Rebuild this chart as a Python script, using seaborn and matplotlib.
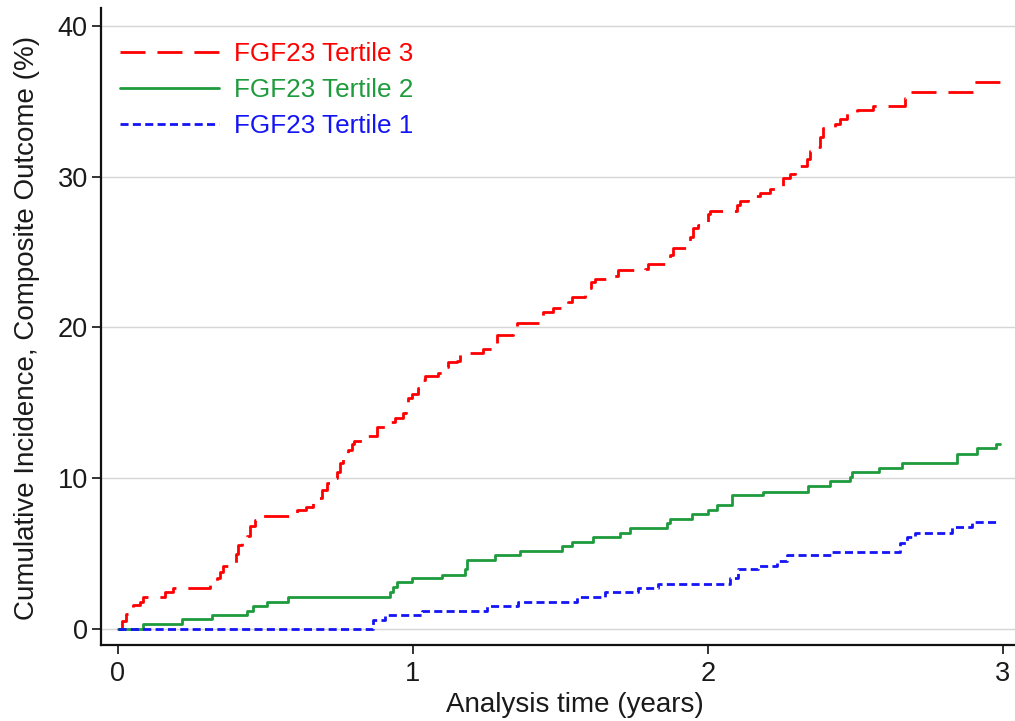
import matplotlib
matplotlib.use("Agg")
import matplotlib.pyplot as plt
from matplotlib.lines import Line2D
import seaborn as sns
import pandas as pd

# Kaplan-Meier style cumulative incidence (%) by FGF23 tertile, step times in years
t3_time = [0.000, 0.014, 0.027, 0.041, 0.051, 0.075, 0.085, 0.159, 0.186, 0.312,
           0.325, 0.336, 0.346, 0.356, 0.390, 0.400, 0.407, 0.420, 0.437, 0.447,
           0.464, 0.492, 0.607, 0.637, 0.661, 0.675, 0.692, 0.708, 0.725, 0.742,
           0.753, 0.763, 0.780, 0.793, 0.800, 0.827, 0.878, 0.915, 0.939, 0.966,
           0.976, 0.983, 0.997, 1.017, 1.027, 1.041, 1.085, 1.102, 1.119, 1.149,
           1.159, 1.237, 1.285, 1.339, 1.346, 1.353, 1.431, 1.441, 1.475, 1.525,
           1.539, 1.583, 1.590, 1.603, 1.617, 1.675, 1.695, 1.786, 1.797, 1.854,
           1.871, 1.881, 1.939, 1.949, 1.966, 2.000, 2.007, 2.098, 2.108, 2.136,
           2.176, 2.210, 2.254, 2.278, 2.295, 2.312, 2.336, 2.346, 2.363, 2.380,
           2.390, 2.431, 2.447, 2.471, 2.505, 2.559, 2.668, 2.685, 2.898, 3.000]
t3_pct = [0.0, 0.5, 1.0, 1.3, 1.6, 1.8, 2.1, 2.45, 2.7, 3.0,
          3.2, 3.4, 3.8, 4.2, 4.4, 5.0, 5.6, 6.0, 6.2, 6.8,
          7.2, 7.5, 7.9, 8.1, 8.4, 8.7, 9.2, 9.7, 10.0, 10.4,
          11.0, 11.4, 11.9, 12.3, 12.5, 12.8, 13.4, 13.7, 14.0, 14.3,
          14.9, 15.3, 15.6, 16.0, 16.5, 16.8, 17.0, 17.4, 17.7, 17.8,
          18.3, 18.6, 19.5, 19.8, 20.0, 20.3, 20.7, 21.0, 21.3, 21.7,
          22.0, 22.3, 22.6, 23.0, 23.2, 23.4, 23.8, 23.9, 24.2, 24.4,
          24.8, 25.3, 26.0, 26.6, 26.8, 27.5, 27.7, 28.1, 28.4, 28.7,
          28.9, 29.2, 29.9, 30.2, 30.5, 30.7, 31.2, 31.7, 32.0, 32.6,
          33.2, 33.5, 33.8, 34.2, 34.4, 34.7, 35.2, 35.6, 36.3, 36.3]

t2_time = [0.000, 0.085, 0.217, 0.319, 0.437, 0.458, 0.505, 0.576, 0.922, 0.932,
           0.946, 0.997, 1.098, 1.176, 1.183, 1.278, 1.363, 1.505, 1.539, 1.610,
           1.702, 1.736, 1.861, 1.871, 1.946, 2.000, 2.031, 2.081, 2.186, 2.339,
           2.414, 2.481, 2.488, 2.580, 2.658, 2.844, 2.912, 2.976, 2.990]
t2_pct = [0.0, 0.33, 0.66, 0.93, 1.2, 1.5, 1.8, 2.1, 2.45, 2.8,
          3.1, 3.4, 3.6, 4.0, 4.6, 4.9, 5.2, 5.5, 5.8, 6.1,
          6.4, 6.7, 7.0, 7.3, 7.6, 7.9, 8.2, 8.9, 9.1, 9.5,
          9.8, 10.1, 10.4, 10.7, 11.0, 11.6, 12.0, 12.3, 12.3]

t1_time = [0.000, 0.864, 0.905, 1.031, 1.251, 1.356, 1.556, 1.651, 1.763, 1.831,
           2.075, 2.102, 2.169, 2.234, 2.268, 2.420, 2.651, 2.675, 2.702, 2.827,
           2.895, 2.980]
t1_pct = [0.0, 0.6, 0.95, 1.2, 1.5, 1.8, 2.1, 2.45, 2.7, 3.0,
          3.4, 4.0, 4.2, 4.5, 4.9, 5.1, 5.7, 6.1, 6.4, 6.75,
          7.1, 7.1]

group_labels = ["FGF23 Tertile 3", "FGF23 Tertile 2", "FGF23 Tertile 1"]
y_ticks = [0, 10, 20, 30, 40]
x_ticks = [0, 1, 2, 3]

colors = {"FGF23 Tertile 3": "#FF0000",
          "FGF23 Tertile 2": "#1E9B3C",
          "FGF23 Tertile 1": "#1414F5"}
styles = {"FGF23 Tertile 3": (0, (18, 8.6)),
          "FGF23 Tertile 2": "-",
          "FGF23 Tertile 1": (0, (5.8, 3.1))}

frames = []
for lab, tt, pp in zip(group_labels, [t3_time, t2_time, t1_time], [t3_pct, t2_pct, t1_pct]):
    frames.append(pd.DataFrame({"time": tt, "pct": pp, "group": lab}))
df = pd.concat(frames, ignore_index=True)

sns.set_theme(style="white")
plt.rcParams["font.family"] = ["Liberation Sans", "DejaVu Sans"]
plt.rcParams["lines.scale_dashes"] = False

fig = plt.figure(figsize=(10.15, 7.21), dpi=100)
ax = fig.add_axes([0.0995, 0.1054, 0.9005, 0.8836])

for lab in group_labels:
    sub = df[df["group"] == lab]
    sns.lineplot(data=sub, x="time", y="pct", ax=ax, estimator=None, sort=False,
                 drawstyle="steps-post", color=colors[lab], linestyle=styles[lab],
                 linewidth=2.0, legend=False)

ax.set_xlim(-0.0576, 3.0407)
ax.set_ylim(-1.06, 41.19)
ax.set_xticks(x_ticks)
ax.set_yticks(y_ticks)
ax.set_xticklabels([str(v) for v in x_ticks])
ax.set_yticklabels([str(v) for v in y_ticks])

ax.yaxis.grid(True, color="#D6D6D6", linewidth=1.0)
ax.xaxis.grid(False)
ax.set_axisbelow(True)

for side in ["top", "right"]:
    ax.spines[side].set_visible(False)
for side in ["left", "bottom"]:
    ax.spines[side].set_color("#111111")
    ax.spines[side].set_linewidth(1.6)

ax.tick_params(axis="both", which="major", direction="out", length=6.5, width=1.2,
               color="#111111", labelsize=19.5, labelcolor="#1A1A1A",
               left=True, bottom=True)
ax.tick_params(axis="y", pad=3)
ax.tick_params(axis="x", pad=5)

ax.set_xlabel("Analysis time (years)", fontsize=20, color="#1A1A1A")
ax.set_ylabel("Cumulative Incidence, Composite Outcome (%)", fontsize=20, color="#1A1A1A")
ax.xaxis.set_label_coords(0.5186, -0.074)
ax.yaxis.set_label_coords(-0.067, 0.4977)

handles = [Line2D([], [], color=colors[lab], linestyle=styles[lab], linewidth=2.0)
           for lab in group_labels]
ax.legend(handles, group_labels, loc="upper left", bbox_to_anchor=(0.0208, 0.946),
          frameon=False, fontsize=18.8, labelcolor="linecolor", handlelength=3.8,
          handletextpad=0.57, labelspacing=0.45, borderpad=0, borderaxespad=0)

fig.savefig("out.png", dpi=100, facecolor="white")
